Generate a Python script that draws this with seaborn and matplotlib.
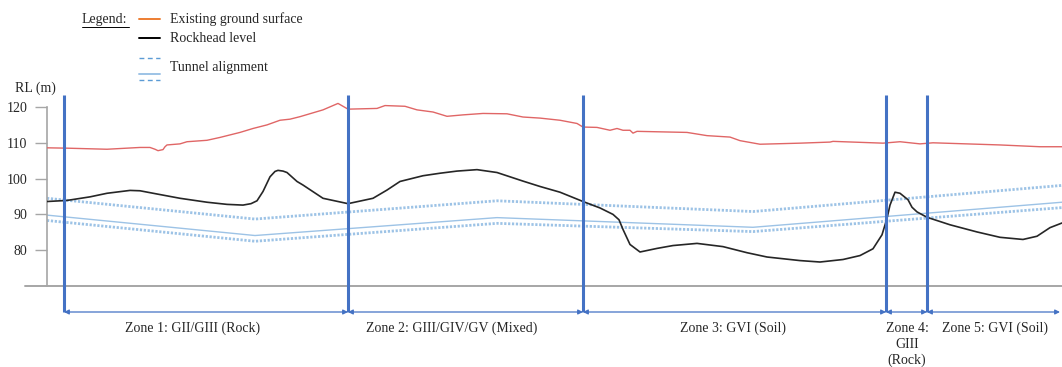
import matplotlib
matplotlib.use("Agg")
import matplotlib.pyplot as plt
import seaborn as sns
import pandas as pd

# ---------------- data ----------------
ground_x = [0, 20, 60, 93, 103, 108, 111, 116, 118, 120, 133, 140, 160, 173, 193, 206, 220, 233, 243,
            253, 276, 291, 301, 330, 338, 358, 370, 386, 400, 416, 436, 460, 476, 493, 503, 513,
            530, 536, 550, 563, 570, 576, 583, 586, 590, 640, 660, 683, 693, 713, 753, 783, 786,
            836, 853, 873, 886, 953, 993, 1015]
ground_y = [108.6, 108.5, 108.2, 108.7, 108.7, 108.2, 107.8, 108.1, 108.9, 109.4, 109.7, 110.3, 110.7,
            111.5, 112.9, 114.0, 115.0, 116.3, 116.6, 117.3, 119.2, 121.0, 119.4, 119.6, 120.4, 120.2,
            119.2, 118.6, 117.4, 117.8, 118.2, 118.1, 117.2, 116.9, 116.6, 116.3, 115.4, 114.4, 114.3,
            113.5, 114.0, 113.5, 113.5, 112.7, 113.2, 112.9, 112.0, 111.6, 110.6, 109.6, 109.9, 110.2,
            110.4, 109.9, 110.3, 109.7, 110.0, 109.4, 108.9, 108.9]

rock_x = [0, 20, 43, 60, 83, 93, 110, 133, 160, 180, 196, 204, 210, 216, 223, 228, 231, 236, 240,
          250, 256, 276, 301, 326, 340, 353, 376, 393, 410, 430, 450, 476, 493, 513, 536, 553, 566,
          572, 576, 583, 593, 610, 626, 650, 676, 700, 720, 753, 773, 796, 813, 826, 835, 840, 843,
          848, 853, 861, 865, 870, 880, 903, 930, 953, 976, 990, 1003, 1015]
rock_y = [93.6, 93.9, 94.9, 95.9, 96.7, 96.6, 95.7, 94.5, 93.4, 92.8, 92.6, 93.0, 93.8, 96.4, 100.5,
          102.0, 102.3, 102.1, 101.7, 99.2, 98.2, 94.5, 93.0, 94.5, 96.8, 99.2, 100.8, 101.5, 102.1,
          102.5, 101.7, 99.3, 97.8, 96.2, 93.6, 91.8, 90.0, 88.5, 85.8, 81.6, 79.5, 80.5, 81.3,
          81.9, 81.0, 79.3, 78.1, 77.1, 76.7, 77.4, 78.5, 80.4, 84.3, 88.9, 92.6, 96.2, 95.9, 94.1,
          92.0, 90.7, 89.2, 87.1, 85.1, 83.6, 83.0, 83.9, 86.3, 87.6]

tunnel_x = [0, 208, 450, 706, 1015]
tunnel_upper = [94.5, 88.7, 93.8, 90.8, 98.1]
tunnel_centre = [89.8, 84.1, 89.1, 86.4, 93.4]
tunnel_lower = [88.3, 82.5, 87.5, 85.2, 91.9]

zone_bounds = [17, 301, 536, 839, 880, 1013]
zone_label_x = [146, 405, 686, 860, 948]
zone_labels = ["Zone 1: GII/GIII (Rock)", "Zone 2: GIII/GIV/GV (Mixed)", "Zone 3: GVI (Soil)",
               "Zone 4:\nGIII\n(Rock)", "Zone 5: GVI (Soil)"]
y_ticks = [80, 90, 100, 110, 120]

legend_labels = ["Existing ground surface", "Rockhead level", "Tunnel alignment"]

# ---------------- style ----------------
sns.set_style("white")
plt.rcParams["font.family"] = ["Liberation Serif", "DejaVu Serif"]
FS = 10

W, H = 1062, 367
fig = plt.figure(figsize=(W / 100, H / 100), dpi=100)
px = 3.58  # pixels per metre
ax = fig.add_axes([47 / W, (H - 286) / H, 1015 / W, 195 / H])
ax.set_xlim(0, 1015)
ax.set_ylim(70, 70 + 195 / px)

ground = pd.DataFrame({"x": ground_x, "y": ground_y})
rock = pd.DataFrame({"x": rock_x, "y": rock_y})
tun = pd.DataFrame({"x": tunnel_x, "up": tunnel_upper, "c": tunnel_centre, "lo": tunnel_lower})

tcol = "#9DC3E6"
sns.lineplot(data=tun, x="x", y="up", ax=ax, color=tcol, lw=2.0, zorder=2)
sns.lineplot(data=tun, x="x", y="lo", ax=ax, color=tcol, lw=2.0, zorder=2)
for ln in ax.lines:
    ln.set_dashes((0.8, 0.6))
sns.lineplot(data=tun, x="x", y="c", ax=ax, color=tcol, lw=1.0, zorder=2)
sns.lineplot(data=ground, x="x", y="y", ax=ax, color="#E06666", lw=1.0, zorder=3)
sns.lineplot(data=rock, x="x", y="y", ax=ax, color="#262626", lw=1.2, zorder=3)
for ln in ax.lines:
    ln.set_solid_joinstyle("round")

# zone boundaries
ax.vlines(zone_bounds[:5], 70 - 26 / px, 70 + 191 / px, colors="#4472C4", lw=2.2,
          clip_on=False, zorder=4)
ya = 70 - 26 / px
for a, b in zip(zone_bounds[:-1], zone_bounds[1:]):
    ax.annotate("", xy=(a, ya), xytext=(b, ya), annotation_clip=False,
                arrowprops=dict(arrowstyle="<|-|>", color="#4472C4", lw=0.9,
                                shrinkA=0, shrinkB=0, mutation_scale=7))
for lx, lab in zip(zone_label_x, zone_labels):
    ax.text(lx, 70 - 35.5 / px, lab, ha="center", va="top", fontsize=FS,
            linespacing=1.3, clip_on=False)

# axes styling
ax.set_xlabel("")
ax.set_ylabel("")
ax.set_xticks([])
ax.set_yticks(y_ticks)
ax.tick_params(axis="y", length=8.6, width=1, color="#A6A6A6", pad=5.5, labelsize=FS,
               left=True)
for s in ["top", "right", "bottom"]:
    ax.spines[s].set_visible(False)
ax.spines["left"].set_bounds(70, 120)
ax.spines["left"].set_color("#A6A6A6")
ax.spines["left"].set_linewidth(1.2)
ax.axhline(70, xmin=-22 / 1015, xmax=1, color="#A6A6A6", lw=1.4, clip_on=False, zorder=1)

fig.text(15 / W, 1 - 88 / H, "RL (m)", fontsize=FS, ha="left", va="center")

# legend (drawn in pixel coordinates)
lax = fig.add_axes([0, 0, 1, 1])
lax.set_xlim(0, W)
lax.set_ylim(H, 0)
lax.axis("off")
lax.text(82, 19, "Legend:", fontsize=FS, ha="left", va="center")
lax.plot([82, 129], [27, 27], color="black", lw=0.7)
lax.plot([139, 160], [19, 19], color="#ED7D31", lw=1.4)
lax.plot([139, 160], [38, 38], color="black", lw=1.4)
lax.plot([139, 160], [58, 58], color="#5B9BD5", lw=1.0, dashes=(3.5, 2.5))
lax.plot([139, 160], [74, 74], color="#9DC3E6", lw=1.4)
lax.plot([139, 160], [80, 80], color="#5B9BD5", lw=1.0, dashes=(3.5, 2.5))
for yy, lab in zip([19, 38, 67], legend_labels):
    lax.text(170, yy, lab, fontsize=FS, ha="left", va="center")

fig.savefig("out.png", dpi=100)
